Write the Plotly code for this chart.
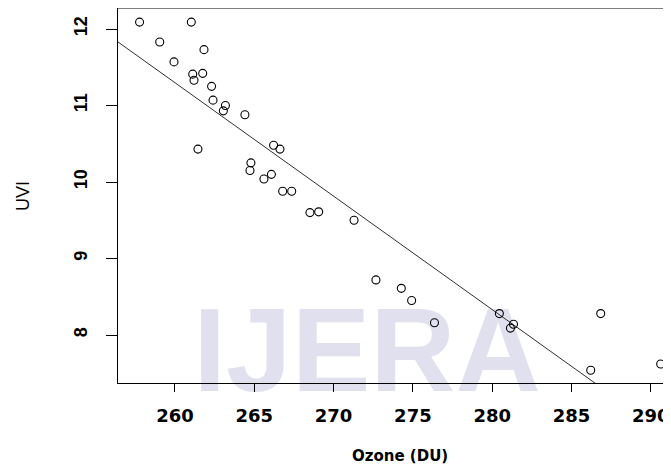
import numpy as np
import plotly.graph_objects as go

# Data
ozone = [257.77, 261.03, 259.04, 261.83, 259.94, 261.12, 261.75, 261.20, 262.31, 262.40,
         263.18, 263.05, 264.41, 261.45, 266.22, 266.62, 264.79, 264.73, 266.08, 265.61,
         266.79, 267.36, 268.51, 269.06, 271.29, 272.67, 274.27, 274.92, 276.36, 280.45,
         281.34, 281.15, 286.84, 286.21, 290.62]
uvi = [12.09, 12.09, 11.83, 11.73, 11.57, 11.41, 11.42, 11.33, 11.25, 11.07,
       11.00, 10.93, 10.88, 10.43, 10.48, 10.43, 10.25, 10.15, 10.10, 10.04,
       9.88, 9.88, 9.60, 9.61, 9.50, 8.72, 8.61, 8.45, 8.16, 8.28,
       8.14, 8.09, 8.28, 7.54, 7.62]

fit_intercept = 49.856
fit_slope = -0.1483

x_ticks = [260, 265, 270, 275, 280, 285, 290]
y_ticks = [8, 9, 10, 11, 12]

x_range = [256.41, 291.27]
y_range = [7.3725, 12.2745]

fit_x = np.array(x_range)
fit_y = fit_intercept + fit_slope * fit_x

# page body has an 8px margin: figure is sized/placed to compensate
OFF = 8
W, H = 671 - OFF, 467 - OFF
ML, MR, MT, MB = 110, 0, 0, 84
PLOT_L, PLOT_R = OFF + ML, OFF + W - MR
PLOT_T, PLOT_B = OFF + MT, OFF + H - MB


def px(xp):
    return (xp - PLOT_L) / (PLOT_R - PLOT_L)


def py(yp):
    return (PLOT_B - yp) / (PLOT_B - PLOT_T)


fig = go.Figure()

fig.add_trace(go.Scatter(
    x=fit_x, y=fit_y, mode="lines",
    line=dict(color="#303030", width=1),
    hoverinfo="skip", showlegend=False,
))

fig.add_trace(go.Scatter(
    x=ozone, y=uvi, mode="markers",
    marker=dict(symbol="circle-open", size=8, color="black", line=dict(width=1.1, color="black")),
    showlegend=False,
))

# watermark (below everything)
fig.add_shape(
    type="rect", xref="paper", yref="paper",
    x0=px(196), x1=px(538), y0=py(395), y1=py(283),
    line=dict(width=0), fillcolor="rgba(0,0,0,0)", layer="below",
    label=dict(text="IJERA", textposition="middle center",
               font=dict(family="Liberation Sans", size=118, color="rgb(224,224,239)",
                         weight="bold")),
)

# top border of the box
fig.add_shape(type="line", xref="paper", yref="paper", x0=0, x1=1.02, y0=1, y1=1,
              line=dict(color="black", width=1))

fig.add_annotation(text="UVI", xref="paper", yref="paper", x=px(23), y=py(196),
                   showarrow=False, textangle=-90, xanchor="center", yanchor="middle",
                   font=dict(family="Liberation Sans", size=18, color="black"))
fig.add_annotation(text="Ozone (DU)", xref="paper", yref="paper", x=px(400), y=py(456),
                   showarrow=False, xanchor="center", yanchor="middle",
                   font=dict(family="DejaVu Sans", size=15, color="black", weight="bold"))

fig.update_xaxes(
    range=x_range, tickvals=x_ticks, ticktext=[str(v) for v in x_ticks],
    showline=True, linecolor="black", linewidth=1,
    ticks="outside", ticklen=8, tickcolor="black", tickwidth=1,
    showgrid=False, zeroline=False, ticklabelstandoff=8,
    tickfont=dict(family="DejaVu Sans", size=18, color="black", weight="bold"),
)
fig.update_yaxes(
    range=y_range, tickvals=y_ticks, ticktext=[str(v) for v in y_ticks],
    showline=True, linecolor="black", linewidth=1,
    ticks="outside", ticklen=11, tickcolor="black", tickwidth=1,
    showgrid=False, zeroline=False, tickangle=-90, ticklabelstandoff=12,
    tickfont=dict(family="Liberation Sans", size=18, color="black", weight="bold"),
)

fig.update_layout(
    width=W, height=H,
    margin=dict(l=ML, r=MR, t=MT, b=MB),
    paper_bgcolor="white", plot_bgcolor="rgba(0,0,0,0)",
)

fig.write_html("out.html")
